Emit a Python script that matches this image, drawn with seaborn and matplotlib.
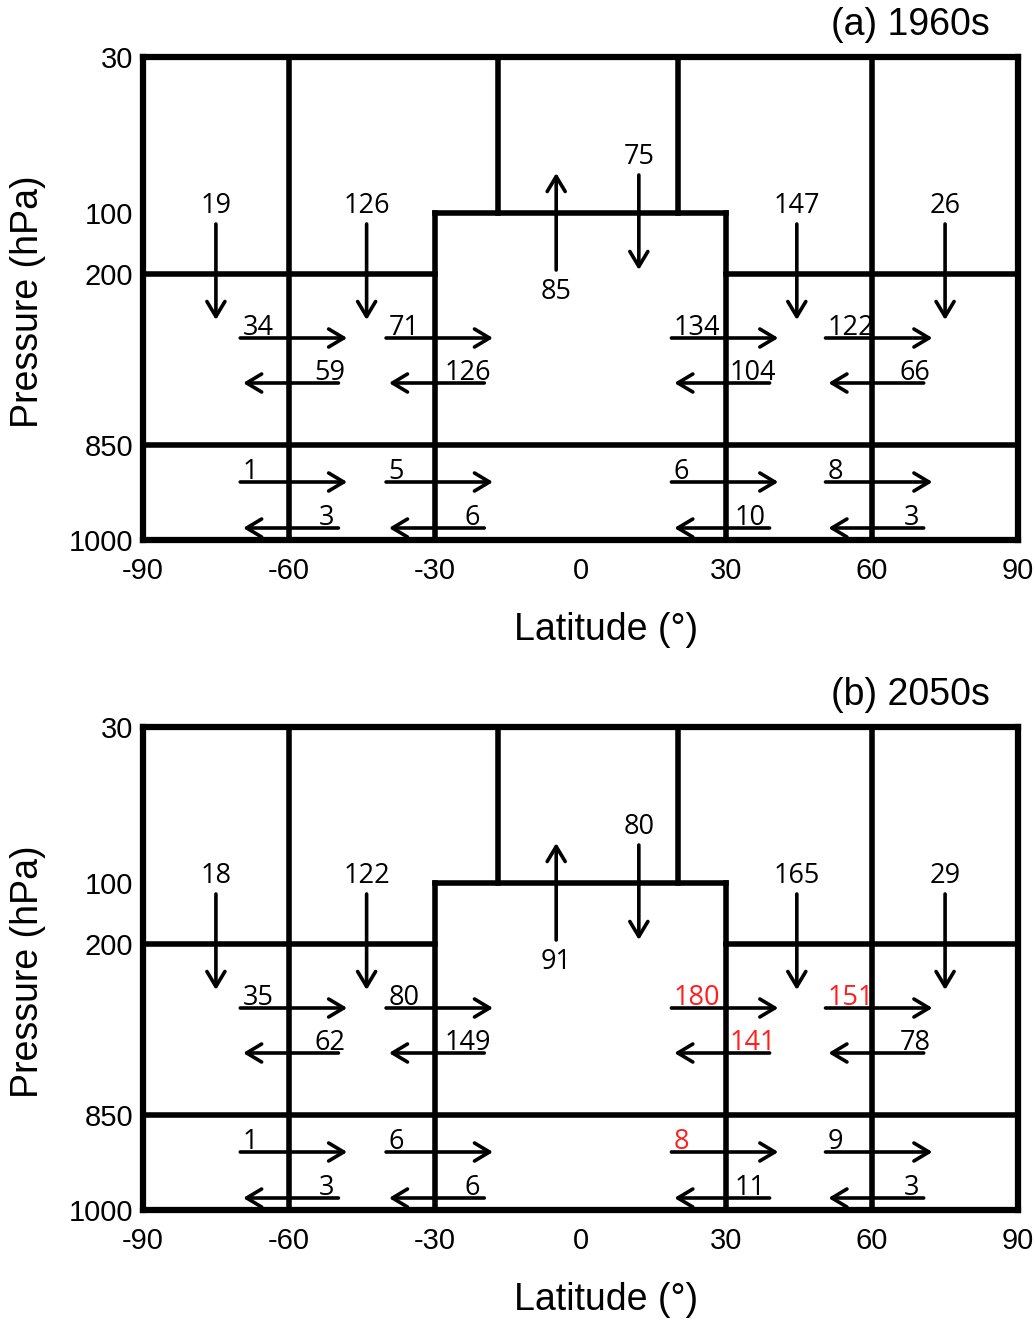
import numpy as np
import pandas as pd
import matplotlib
matplotlib.use("Agg")
import matplotlib.pyplot as plt
import seaborn as sns

# ---------------- data ----------------
panel_titles = ["(a) 1960s", "(b) 2050s"]
lat_ticks = [-90, -60, -30, 0, 30, 60, 90]
lev_labels = ["30", "100", "200", "850", "1000"]

# panel (a) 1960s
down_a = [19, 126, 147, 26]          # downward fluxes through 200 hPa
up_center_a = 85                     # upward through 100 hPa (tropics)
down_center_a = 75                   # downward through 100 hPa (tropics)
upper_east_a = [34, 71, 134, 122]    # 200-850 hPa, northward
upper_west_a = [59, 126, 104, 66]    # 200-850 hPa, southward
lower_east_a = [1, 5, 6, 8]          # 850-1000 hPa, northward
lower_west_a = [3, 6, 10, 3]         # 850-1000 hPa, southward

# panel (b) 2050s
down_b = [18, 122, 165, 29]
up_center_b = 91
down_center_b = 80
upper_east_b = [35, 80, 180, 151]
upper_west_b = [62, 149, 141, 78]
lower_east_b = [1, 6, 8, 9]
lower_west_b = [3, 6, 11, 3]

# significant changes highlighted in red (panel b)
red_upper_east_b = [False, False, True, True]
red_upper_west_b = [False, False, True, False]
red_lower_east_b = [False, False, True, False]

# ---------------- layout ----------------
lev_pos = {30: 0, 100: 156, 200: 217, 850: 388, 1000: 483}   # schematic level positions
box_segments = [
    ((-90, 200), (-30, 200)), ((30, 200), (90, 200)),
    ((-30, 100), (30, 100)), ((-90, 850), (90, 850)),
    ((-60, 30), (-60, 1000)), ((60, 30), (60, 1000)),
    ((-30, 100), (-30, 1000)), ((30, 100), (30, 1000)),
    ((-17, 30), (-17, 100)), ((20, 30), (20, 100)),
]
vert_lats = [-75, -44, 44.5, 75]
horiz_starts = [-70, -40, 18.7, 50.4]
y_up_e, y_up_w, y_lo_e, y_lo_w = 281, 326, 425, 471

sns.set_theme(style="white")
plt.rcParams["axes.unicode_minus"] = False
plt.rcParams["font.family"] = ["Liberation Sans", "DejaVu Sans"]

fig = plt.figure(figsize=(10.35, 13.23), dpi=100)
W, H = 1035, 1323

seg_rows = []
for i, (p0, p1) in enumerate(box_segments):
    for (la, lv) in (p0, p1):
        seg_rows.append({"seg": i, "lat": la, "pos": lev_pos[lv]})
seg_df = pd.DataFrame(seg_rows)

num_font = dict(family=["Open Sans", "DejaVu Sans"], fontsize=19.5)
RED = "#ff1f1f"
arrow_style = "->,head_length=0.6,head_width=0.36"


def arrow(ax, x0, y0, x1, y1):
    ax.annotate("", xy=(x1, y1), xytext=(x0, y0),
                arrowprops=dict(arrowstyle=arrow_style, lw=2.6, color="black",
                                mutation_scale=18, shrinkA=0, shrinkB=0),
                zorder=4)


panels = [
    (down_a, up_center_a, down_center_a, upper_east_a, upper_west_a, lower_east_a, lower_west_a,
     [False] * 4, [False] * 4, [False] * 4),
    (down_b, up_center_b, down_center_b, upper_east_b, upper_west_b, lower_east_b, lower_west_b,
     red_upper_east_b, red_upper_west_b, red_lower_east_b),
]
tops = [57, 727]

for k, (pdata, top) in enumerate(zip(panels, tops)):
    (down, upc, downc, ue, uw, le, lw_, rue, ruw, rle) = pdata
    bottom = top + 483
    ax = fig.add_axes([143 / W, 1 - bottom / H, 875 / W, 483 / H])
    sns.lineplot(data=seg_df, x="lat", y="pos", units="seg", estimator=None, sort=False,
                 color="black", linewidth=4, ax=ax, legend=False,
                 solid_capstyle="projecting")
    ax.set_xlim(-90, 90)
    ax.set_ylim(483, 0)
    for s in ax.spines.values():
        s.set_linewidth(4.5)
        s.set_color("black")
        s.set_visible(True)
    ax.set_xticks(lat_ticks)
    ax.set_xticklabels([str(t) for t in lat_ticks])
    ax.set_yticks([lev_pos[int(l)] for l in lev_labels])
    ax.set_yticklabels(lev_labels)
    ax.tick_params(axis="both", length=0, labelsize=21, colors="black")
    ax.tick_params(axis="x", pad=12)
    ax.tick_params(axis="y", pad=7)
    ax.set_xlabel("")
    ax.set_ylabel("")
    ax.grid(False)

    # vertical fluxes through 200 hPa
    for la, v in zip(vert_lats, down):
        ax.text(la, 149, str(v), ha="center", va="center", color="black", **num_font)
        arrow(ax, la, 167, la, 263)
    # tropical exchange through 100 hPa
    arrow(ax, -5, 213, -5, 116)
    ax.text(-5, 235, str(upc), ha="center", va="center", color="black", **num_font)
    arrow(ax, 12, 118, 12, 213)
    ax.text(12, 100, str(downc), ha="center", va="center", color="black", **num_font)

    # horizontal fluxes
    for i, s in enumerate(horiz_starts):
        arrow(ax, s, y_up_e, s + 22, y_up_e)
        ax.text(s + 0.5, y_up_e - 3, str(ue[i]), ha="left", va="baseline",
                color=RED if rue[i] else "black", **num_font)
        arrow(ax, s + 20.2, y_up_w, s + 0.6, y_up_w)
        ax.text(s + 21.6, y_up_w - 3, str(uw[i]), ha="right", va="baseline",
                color=RED if ruw[i] else "black", **num_font)
        arrow(ax, s, y_lo_e, s + 22, y_lo_e)
        ax.text(s + 0.5, y_lo_e - 3, str(le[i]), ha="left", va="baseline",
                color=RED if rle[i] else "black", **num_font)
        arrow(ax, s + 20.2, y_lo_w, s + 0.6, y_lo_w)
        ax.text(s + 19.4, y_lo_w - 3, str(lw_[i]), ha="right", va="baseline",
                color="black", **num_font)

    fig.text(990 / W, 1 - (top - 32) / H, panel_titles[k], ha="right", va="center",
             fontsize=27, color="black")
    fig.text(606 / W, 1 - (top + 573) / H, "Latitude (°)", ha="center", va="center",
             fontsize=27, color="black")
    fig.text(28 / W, 1 - (top + 245) / H, "Pressure (hPa)", ha="center", va="center",
             rotation=90, fontsize=27, color="black")

fig.savefig("out.png", dpi=100, facecolor="white")
